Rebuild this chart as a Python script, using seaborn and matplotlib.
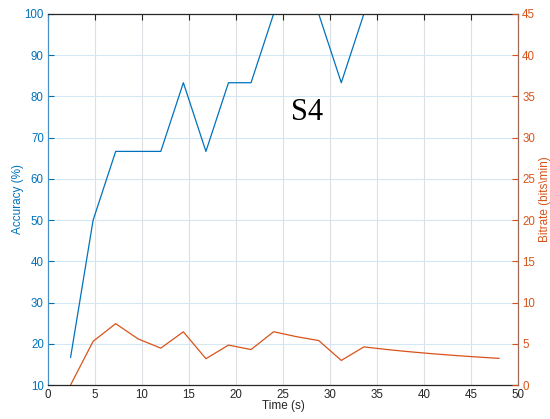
import matplotlib
matplotlib.use("Agg")
import matplotlib.pyplot as plt
import seaborn as sns
import pandas as pd

sns.set_theme(style="white")
plt.rcParams["font.family"] = ["Liberation Sans", "DejaVu Sans"]

# Time of each decision (s)
time_s = [2.4, 4.8, 7.2, 9.6, 12.0, 14.4, 16.8, 19.2, 21.6, 24.0,
          26.4, 28.8, 31.2, 33.6, 36.0, 38.4, 40.8, 43.2, 45.6, 48.0]
# Classification accuracy (%)
accuracy = [16.67, 50.0, 66.67, 66.67, 66.67, 83.33, 66.67, 83.33, 83.33, 100.0,
            100.0, 100.0, 83.33, 100.0, 100.0, 100.0, 100.0, 100.0, 100.0, 100.0]
# Information transfer rate (bits/min)
bitrate = [0.0, 5.30, 7.44, 5.58, 4.47, 6.45, 3.19, 4.84, 4.30, 6.46,
           5.87, 5.39, 2.98, 4.62, 4.31, 4.04, 3.80, 3.59, 3.40, 3.23]

x_ticks = [0, 5, 10, 15, 20, 25, 30, 35, 40, 45, 50]
acc_ticks = [10, 20, 30, 40, 50, 60, 70, 80, 90, 100]
bit_ticks = [0, 5, 10, 15, 20, 25, 30, 35, 40, 45]

BLUE = "#0072BD"
ORANGE = "#D95319"
TICK_FS = 8.3

df = pd.DataFrame({"time": time_s, "accuracy": accuracy, "bitrate": bitrate})

fig = plt.figure(figsize=(5.5, 4.19), dpi=100)
ax = fig.add_axes([48 / 550, 1 - 385 / 419, 470 / 550, 371 / 419])
ax2 = ax.twinx()

sns.lineplot(data=df, x="time", y="accuracy", ax=ax, color=BLUE, linewidth=0.9)
sns.lineplot(data=df, x="time", y="bitrate", ax=ax2, color=ORANGE, linewidth=0.9)

ax.set_xlim(0, 50)
ax.set_ylim(10, 100)
ax2.set_ylim(0, 45)
ax.set_xticks(x_ticks)
ax.set_yticks(acc_ticks)
ax2.set_yticks(bit_ticks)

# grid: vertical lines grey, horizontal lines tinted blue
for xv in x_ticks[1:-1]:
    ax.axvline(xv, color="#dcdfe3", linewidth=0.8, zorder=0)
for yv in acc_ticks[1:-1]:
    ax.axhline(yv, color="#d6e7f4", linewidth=0.8, zorder=0)

ax.set_xlabel("Time (s)", fontsize=TICK_FS + 0.2, color="#262626", labelpad=-1)
ax.set_ylabel("Accuracy (%)", fontsize=TICK_FS + 0.2, color=BLUE, labelpad=0)
ax2.set_ylabel("Bitrate (bits\\min)", fontsize=TICK_FS + 0.2, color=ORANGE, labelpad=2.5)

ax.tick_params(axis="x", direction="in", length=4, width=0.8, colors="#262626",
               labelsize=TICK_FS, top=True, pad=3)
ax.tick_params(axis="y", direction="in", length=4, width=0.8, colors=BLUE,
               labelsize=TICK_FS, pad=3)
ax2.tick_params(axis="y", direction="in", length=4, width=0.8, colors=ORANGE,
                labelsize=TICK_FS, pad=3)

for a in (ax, ax2):
    for s in a.spines.values():
        s.set_linewidth(0.9)
ax.spines["left"].set_color("#4a90c8")
ax.spines["bottom"].set_color("#262626")
ax.spines["top"].set_color("#262626")
ax.spines["right"].set_visible(False)
ax2.spines["right"].set_color("#a06a58")
ax2.spines["left"].set_visible(False)
ax2.spines["top"].set_visible(False)
ax2.spines["bottom"].set_visible(False)

ax.text(27.6, 76.0, "S4", fontsize=22, family="Liberation Serif",
        ha="center", va="center", color="black")

fig.savefig("out.png", dpi=100)
